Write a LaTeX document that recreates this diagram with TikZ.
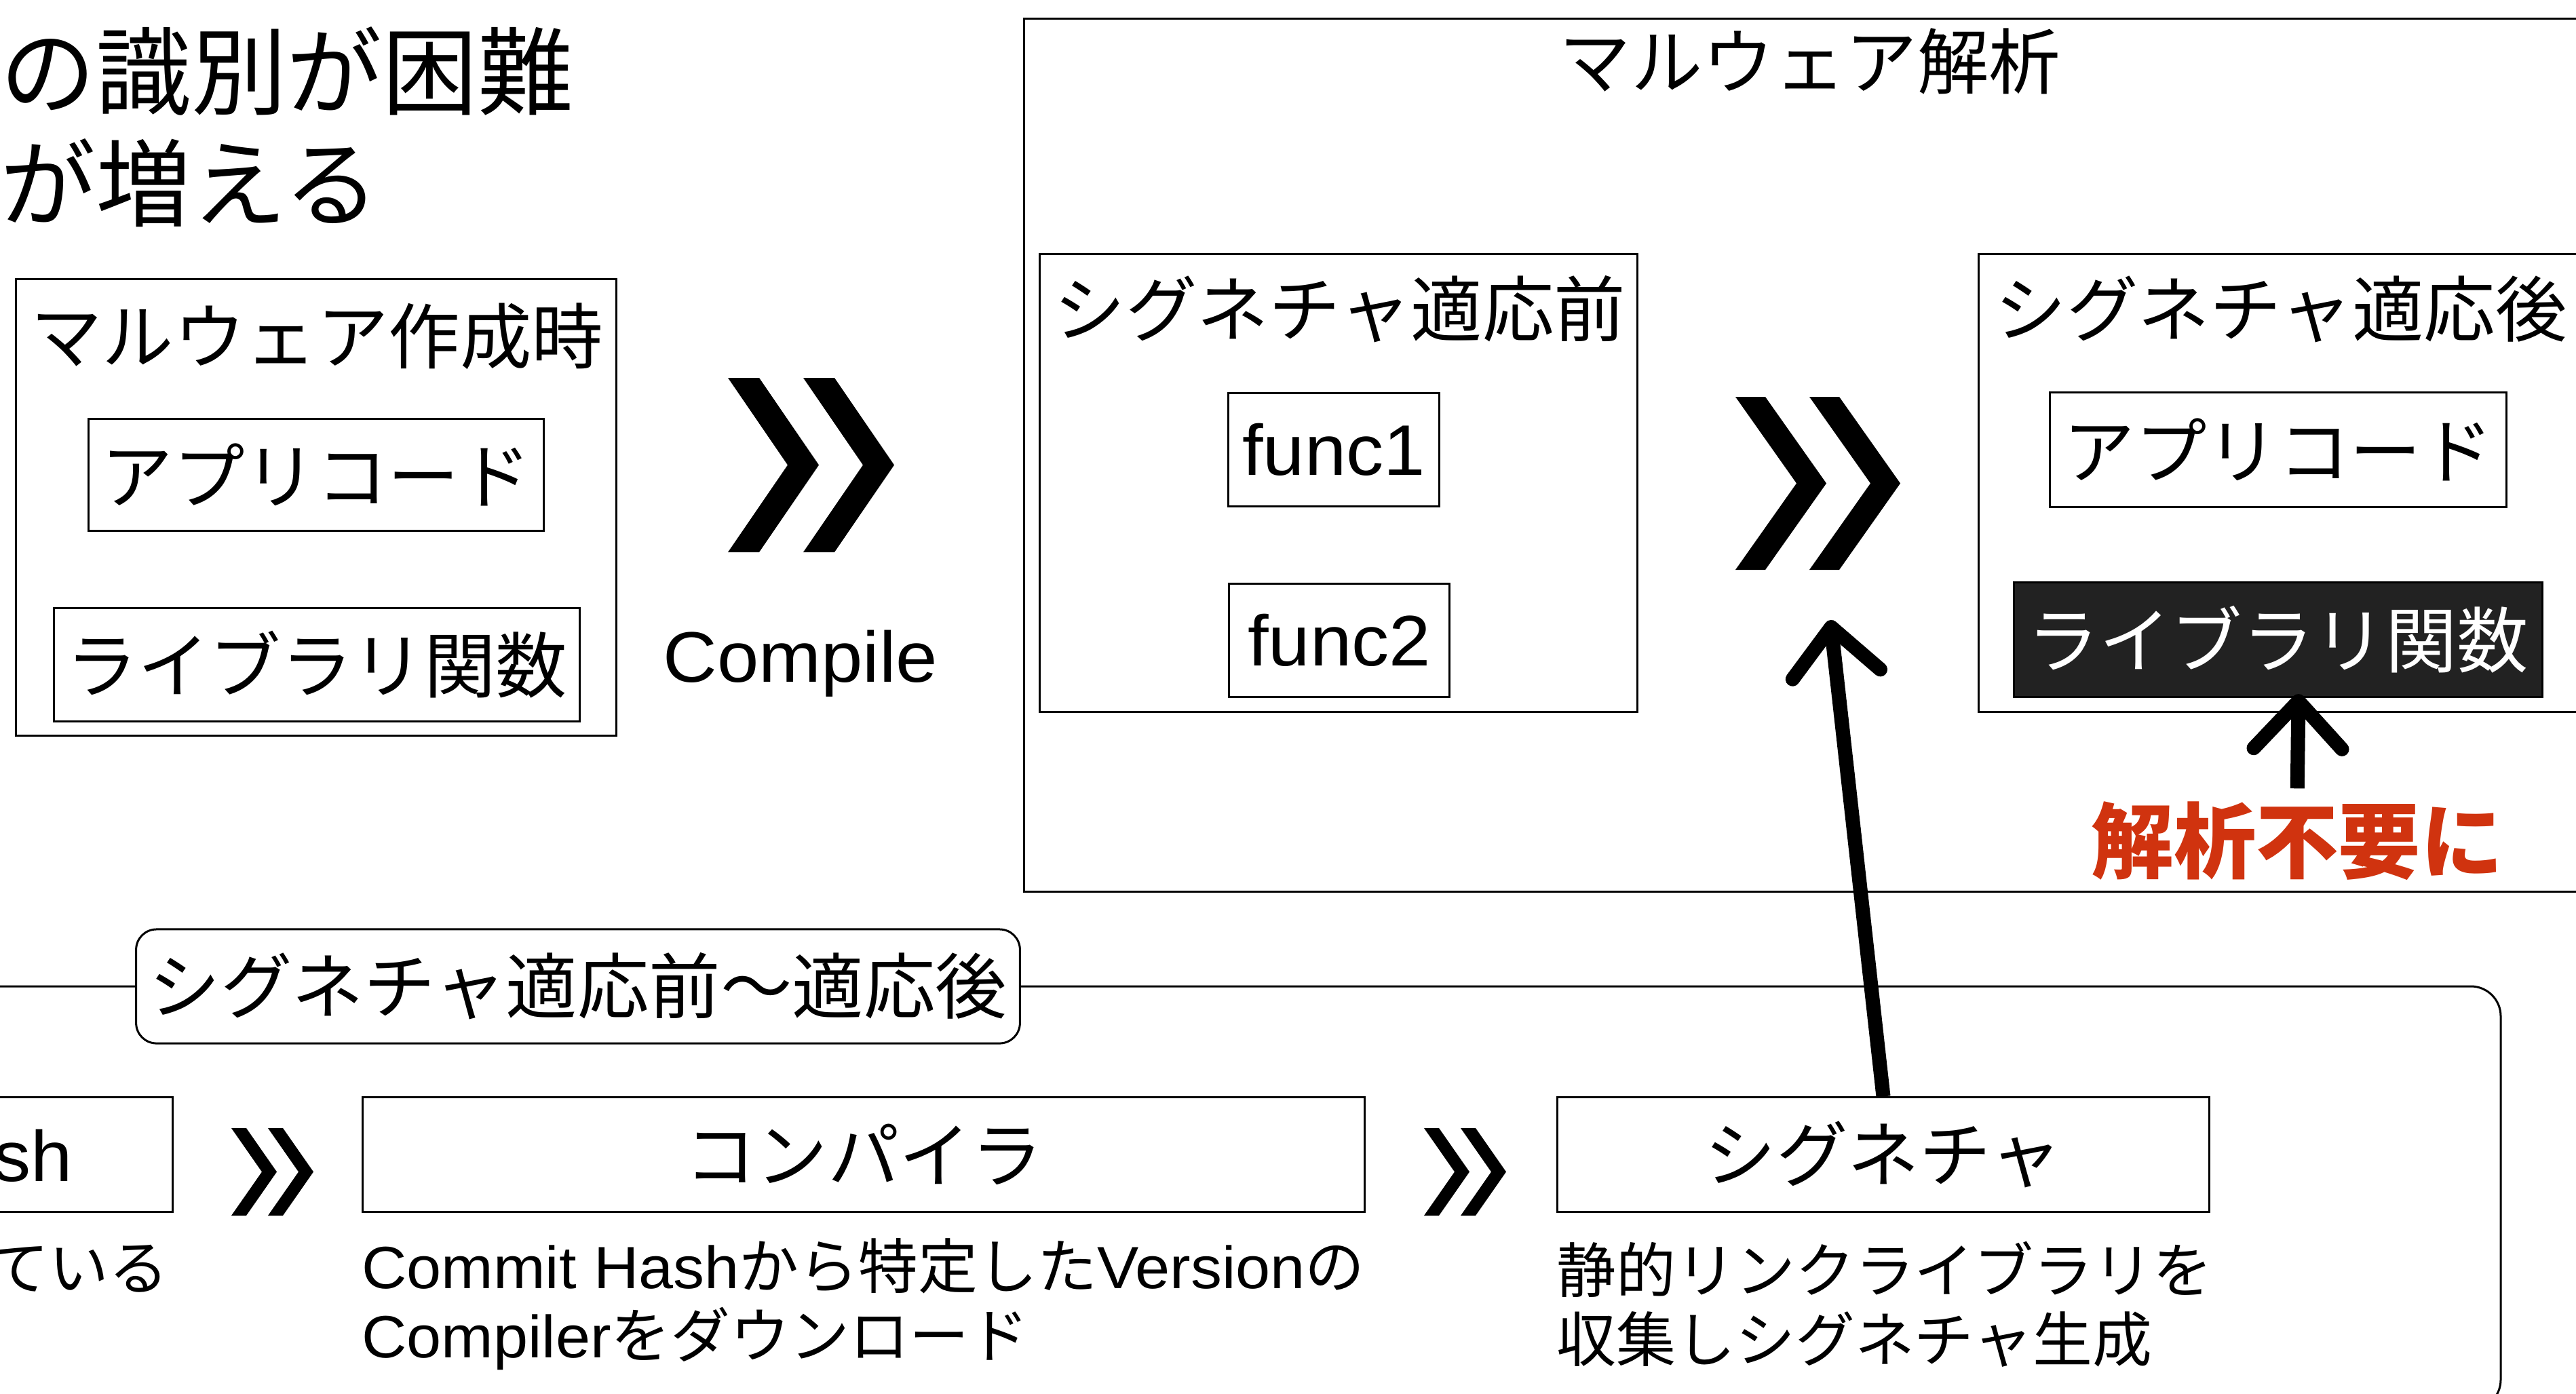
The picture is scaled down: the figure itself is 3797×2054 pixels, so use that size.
\documentclass[tikz,border=0pt]{standalone}
\usepackage{fontspec}
\setmainfont{Noto Sans CJK JP}
\newfontfamily\lat[FakeStretch=1.045]{Liberation Sans}
\usetikzlibrary{positioning,arrows.meta}

\definecolor{libdark}{HTML}{222222}
\definecolor{alertred}{HTML}{D0330F}

% double chevron: left x, top y, height, stroke, depth, offset
\newcommand{\dchev}[6]{%
  \foreach \dx in {0,#6}
    \fill (#1+\dx,#2) -- ++(#4,0) -- ++(#5,#3/2) -- ++(-#5,#3/2)
      -- ++(-#4,0) -- ++(#5,-#3/2) -- cycle;}

\begin{document}
\begin{tikzpicture}[
    x=0.01cm, y=-0.01cm,
    every node/.style={inner sep=0, font=\fontsize{30}{36}\selectfont},
    frame/.style={draw, line width=0.03cm},
    box/.style 2 args={frame, minimum width=#1, minimum height=#2},
    latin/.style={font=\lat\fontsize{30}{36}\selectfont},
    desc/.style={align=left, font=\fontsize{25}{29}\selectfont},
    bigarrow/.style={-{Straight Barb[length=0.7cm,width=1.3cm,round]}, line width=0.21cm}
]
\useasboundingbox (0,0) rectangle (3797,2054);
\clip (0,0) rectangle (3797,2054);

\node[anchor=west, align=left, font=\fontsize{40}{47}\selectfont] (head) at (0,187) {の識別が困難\\が増える};

% malware build time
\node[box={8.84cm}{6.73cm}] (make) at (466,748) {};
\node (maketitle) at (467,496) {マルウェア作成時};
\node[box={6.71cm}{1.65cm}] (app1) at (466,700) {アプリコード};
\node[box={7.75cm}{1.67cm}] (lib1) at (467,980) {ライブラリ関数};
\dchev{1073}{557}{257}{46}{88}{111}
\node[latin, anchor=base] (compile) at (1180,1005) {Compile};

% malware analysis
\node[box={23.16cm}{12.87cm}] (ana) at (2668,671) {};
\node (anatitle) at (2668,90) {マルウェア解析};
\node[box={8.81cm}{6.74cm}] (pre) at (1973,712) {};
\node (pretitle) at (1975,456) {シグネチャ適応前};
\node[box={3.10cm}{1.67cm}, latin] (f1) at (1966,663) {func1};
\node[box={3.25cm}{1.66cm}, latin] (f2) at (1974,944) {func2};
\dchev{2558}{585}{255}{44}{90}{109}
\node[box={8.86cm}{6.75cm}] (post) at (3360,712) {};
\node (posttitle) at (3362,456) {シグネチャ適応後};
\node[box={6.73cm}{1.68cm}] (app2) at (3358,663) {アプリコード};
\node[box={7.79cm}{1.69cm}, fill=libdark, text=white] (lib2) at (3358,943) {ライブラリ関数};
\node[text=alertred, font=\bfseries\fontsize{34.5}{40}\selectfont] (fuyou) at (3386,1240) {解析不要に};
\draw[bigarrow, shorten <=0.19cm] (fuyou.north) -- ([xshift=0.3cm,yshift=0.06cm]lib2.south);

% before ~ after
\draw[frame, rounded corners=0.44cm] (-50,1454) -- (3686,1454) -- (3686,2078) -- (-50,2078);
\node[frame, rounded corners=0.3cm, fill=white, minimum width=13.02cm, minimum height=1.68cm] (span) at (852,1454) {シグネチャ適応前〜適応後};

\node[box={5.5cm}{1.68cm}] (hash) at (-21,1702) {};
\node[latin, anchor=base east] (hashtxt) at (108,1741) {sh};
\node[desc, anchor=east] (hashdesc) at ([xshift=-0.07cm,yshift=-0.83cm]hash.south east) {ている};
\dchev{341}{1663}{129}{22}{45}{54}

\node[box={14.77cm}{1.68cm}] (comp) at (1273,1702) {コンパイラ};
\node[desc, anchor=west] (compdesc) at ([yshift=-1.35cm]comp.south west) {{\lat Commit Hash}から特定した{\lat Version}の\\{\lat Compiler}をダウンロード};
\dchev{2099}{1663}{129}{22}{45}{54}

\node[box={9.61cm}{1.68cm}] (sig) at (2776,1702) {シグネチャ};
\node[desc, anchor=west] (sigdesc) at ([yshift=-1.35cm]sig.south west) {静的リンクライブラリを\\収集しシグネチャ生成};

\coordinate (tipA) at (2698,914);
\draw[bigarrow] (sig.north) -- (tipA);
\end{tikzpicture}
\end{document}
